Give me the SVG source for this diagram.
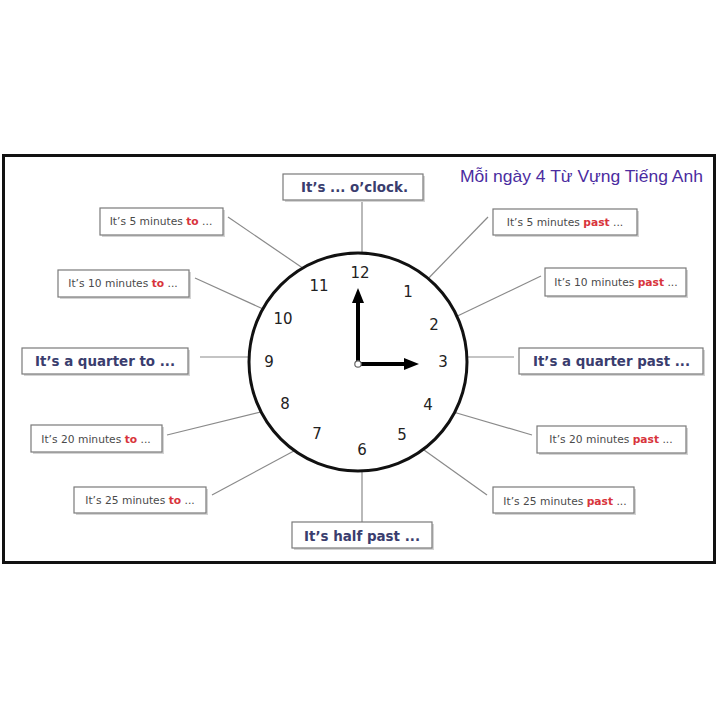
<svg xmlns="http://www.w3.org/2000/svg" width="720" height="720" viewBox="0 0 720 720">
<style>
.box{fill:#fff;stroke:#7a7a7a;stroke-width:1.2}
.shadow{fill:none;stroke:#d4d4d4;stroke-width:2}
.small{font-family:"DejaVu Sans","Verdana",sans-serif;font-size:10.7px;fill:#4a4a4a}
.red{fill:#d8343c;font-weight:bold}
.big{font-family:"DejaVu Sans","Verdana",sans-serif;font-size:14px;font-weight:bold;fill:#3a3d6e}
.num{font-family:"DejaVu Sans","Verdana",sans-serif;font-size:15px;fill:#222}
.conn line{stroke:#8a8a8a;stroke-width:1.2}
</style>
<rect x="0" y="0" width="720" height="720" fill="#fff"/>
<rect x="3.5" y="155.5" width="711" height="407" fill="#fff" stroke="#111" stroke-width="3"/>
<text x="460" y="182" font-family="Liberation Sans, Arial, sans-serif" font-size="17" fill="#4b2ca0" textLength="243" lengthAdjust="spacingAndGlyphs">Mỗi ngày 4 Từ Vựng Tiếng Anh</text>

<g class="conn" id="connectors">
<line x1="362" y1="200" x2="362" y2="261"/>
<line x1="362" y1="462" x2="362" y2="522"/>
<line x1="200" y1="357" x2="258" y2="357"/>
<line x1="458" y1="357" x2="514" y2="357"/>
<line x1="420" y1="287" x2="488" y2="217"/>
<line x1="447" y1="321" x2="541" y2="276"/>
<line x1="443" y1="409" x2="532" y2="435"/>
<line x1="417" y1="445" x2="487" y2="495"/>
<line x1="305" y1="445" x2="212" y2="495"/>
<line x1="273" y1="409" x2="167" y2="435"/>
<line x1="272" y1="313" x2="195" y2="278"/>
<line x1="310" y1="273" x2="228" y2="217"/>
</g>

<g id="clock">
<circle cx="358" cy="362" r="109" fill="#fff" stroke="#111" stroke-width="3"/>
<line x1="358" y1="364" x2="358" y2="300" stroke="#000" stroke-width="4"/>
<polygon points="358,288 352,303 364,303" fill="#000"/>
<line x1="358" y1="364" x2="406" y2="364" stroke="#000" stroke-width="4"/>
<polygon points="419,364 404,358 404,370" fill="#000"/>
<circle cx="358" cy="364" r="3.2" fill="#fff" stroke="#666" stroke-width="1.2"/>
<text class="num" x="360" y="278" text-anchor="middle">12</text>
<text class="num" x="408" y="297" text-anchor="middle">1</text>
<text class="num" x="434" y="330" text-anchor="middle">2</text>
<text class="num" x="443" y="367" text-anchor="middle">3</text>
<text class="num" x="428" y="410" text-anchor="middle">4</text>
<text class="num" x="402" y="440" text-anchor="middle">5</text>
<text class="num" x="362" y="455" text-anchor="middle">6</text>
<text class="num" x="317" y="439" text-anchor="middle">7</text>
<text class="num" x="285" y="409" text-anchor="middle">8</text>
<text class="num" x="269" y="367" text-anchor="middle">9</text>
<text class="num" x="283" y="324" text-anchor="middle">10</text>
<text class="num" x="319" y="291" text-anchor="middle">11</text>
</g>

<g id="oclock">
<polyline class="shadow" points="285,201 424,201 424,176"/>
<rect class="box" x="283" y="174" width="140" height="26"/>
<text class="big" x="354.5" y="192" text-anchor="middle" textLength="107" lengthAdjust="spacingAndGlyphs">It’s ... o’clock.</text>
</g>
<g id="five-to">
<polyline class="shadow" points="102,236 224,236 224,210"/>
<rect class="box" x="100" y="208" width="123" height="27"/>
<text class="small" x="161" y="225" text-anchor="middle">It’s 5 minutes <tspan class="red">to</tspan> ...</text>
</g>
<g id="ten-to">
<polyline class="shadow" points="60,298 190,298 190,272"/>
<rect class="box" x="58" y="270" width="131" height="27"/>
<text class="small" x="123" y="287" text-anchor="middle">It’s 10 minutes <tspan class="red">to</tspan> ...</text>
</g>
<g id="quarter-to">
<polyline class="shadow" points="24,375 189,375 189,350"/>
<rect class="box" x="22" y="348" width="166" height="26"/>
<text class="big" x="105" y="366" text-anchor="middle" textLength="140" lengthAdjust="spacingAndGlyphs">It’s a quarter to ...</text>
</g>
<g id="twenty-to">
<polyline class="shadow" points="33,453 163,453 163,427"/>
<rect class="box" x="31" y="425" width="131" height="27"/>
<text class="small" x="96" y="443" text-anchor="middle">It’s 20 minutes <tspan class="red">to</tspan> ...</text>
</g>
<g id="twentyfive-to">
<polyline class="shadow" points="76,514 207,514 207,489"/>
<rect class="box" x="74" y="487" width="132" height="26"/>
<text class="small" x="140" y="504" text-anchor="middle">It’s 25 minutes <tspan class="red">to</tspan> ...</text>
</g>
<g id="half-past">
<polyline class="shadow" points="294,549 433,549 433,524"/>
<rect class="box" x="292" y="522" width="140" height="26"/>
<text class="big" x="362" y="541" text-anchor="middle" textLength="116" lengthAdjust="spacingAndGlyphs">It’s half past ...</text>
</g>
<g id="five-past">
<polyline class="shadow" points="495,236 638,236 638,211"/>
<rect class="box" x="493" y="209" width="144" height="26"/>
<text class="small" x="565" y="226" text-anchor="middle">It’s 5 minutes <tspan class="red">past</tspan> ...</text>
</g>
<g id="ten-past">
<polyline class="shadow" points="547,297 687,297 687,270"/>
<rect class="box" x="545" y="268" width="141" height="28"/>
<text class="small" x="616" y="286" text-anchor="middle">It’s 10 minutes <tspan class="red">past</tspan> ...</text>
</g>
<g id="quarter-past">
<polyline class="shadow" points="521,375 704,375 704,350"/>
<rect class="box" x="519" y="348" width="184" height="26"/>
<text class="big" x="611.5" y="366" text-anchor="middle" textLength="157" lengthAdjust="spacingAndGlyphs">It’s a quarter past ...</text>
</g>
<g id="twenty-past">
<polyline class="shadow" points="539,454 687,454 687,428"/>
<rect class="box" x="537" y="426" width="149" height="27"/>
<text class="small" x="611" y="443" text-anchor="middle">It’s 20 minutes <tspan class="red">past</tspan> ...</text>
</g>
<g id="twentyfive-past">
<polyline class="shadow" points="495,514 635,514 635,489"/>
<rect class="box" x="493" y="487" width="141" height="26"/>
<text class="small" x="565" y="505" text-anchor="middle">It’s 25 minutes <tspan class="red">past</tspan> ...</text>
</g>
</svg>
